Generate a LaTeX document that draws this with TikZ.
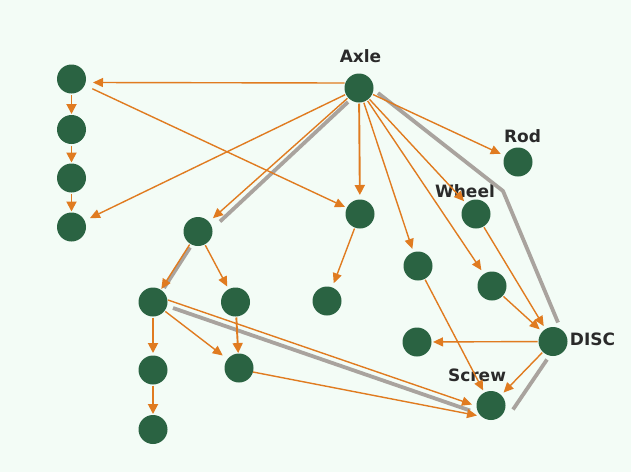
\documentclass[tikz,border=0pt]{standalone}
\usepackage{fontspec}
\setmainfont{DejaVu Sans}
\usetikzlibrary{arrows.meta,calc}
\definecolor{bg}{HTML}{F3FCF6}
\definecolor{nodegreen}{HTML}{2A6342}
\definecolor{edgeor}{HTML}{E07B20}
\definecolor{hlgray}{HTML}{A9A39E}
\definecolor{txt}{HTML}{2A2A2A}
\begin{document}
\begin{tikzpicture}[x=1pt,y=-1pt,
  dot/.style={circle,fill=nodegreen,minimum size=29pt,inner sep=0pt,outer sep=0pt},
  lbl/.style={font=\bfseries\fontsize{17}{20}\selectfont,text=txt,inner sep=0pt,anchor=base},
  arr/.style={draw=edgeor,line width=1.4pt,-{Triangle[length=10pt,width=9pt]},shorten >=3pt,shorten <=1pt},
  arrthick/.style={arr,line width=1.9pt,-{Triangle[length=10pt,width=10pt]}},
  hl/.style={draw=hlgray,line width=3.8pt,line join=round}]
\fill[bg] (0,0) rectangle (631,472);
\useasboundingbox (0,0) rectangle (631,472);
% nodes
\node[dot] (a1) at (71.5,79) {};
\node[dot] (a2) at (71.5,129.5) {};
\node[dot] (a3) at (71.5,178) {};
\node[dot] (a4) at (71.5,227) {};
\node[dot] (axle) at (359,88) {};
\node[dot] (rod) at (518,162) {};
\node[dot] (wheel) at (476,214) {};
\node[dot] (m) at (360,214) {};
\node[dot] (b) at (198,231.5) {};
\node[dot] (c) at (418,266) {};
\node[dot] (d) at (492,286) {};
\node[dot] (e) at (153,302) {};
\node[dot] (f) at (235.5,302) {};
\node[dot] (g) at (327,301) {};
\node[dot] (h) at (417,342) {};
\node[dot] (disc) at (553,341.5) {};
\node[dot] (i) at (153,370) {};
\node[dot] (j) at (239,368) {};
\node[dot] (screw) at (491,405.5) {};
\node[dot] (k) at (153,429.5) {};
\coordinate (bend) at (503,191);
% labels
\node[lbl] (tAxle) at (360.5,62) {Axle};
\node[lbl] (tRod) at (522.5,142) {Rod};
\node[lbl] (tWheel) at (465,197) {Wheel};
\node[lbl] (tDisc) at (592.5,345) {DISC};
\node[lbl] (tScrew) at (477,381) {Screw};
% highlighted cycle
\draw[hl] ($(axle)+(-11,14)$) -- ($(b)+(22,-10)$);
\draw[hl] ($(b)+(-8,16)$) -- ($(e)+(11,-14)$);
\draw[hl] ($(e)+(20,6)$) -- ($(screw)+(-21,5)$);
\draw[hl] ($(screw)+(22,4)$) -- ($(disc)+(-6,18)$);
\draw[hl] ($(disc)+(5,-19)$) -- (bend) -- ($(axle)+(19,5)$);
% directed edges
\draw[arr,shorten >=0pt,shorten <=0pt] ($(axle)+(-14.5,-5)$) -- ($(a1)+(21.5,3.5)$);
\draw[arrthick,shorten >=1pt,shorten <=1.5pt] (a1) -- (a2);
\draw[arrthick,shorten >=1pt,shorten <=1.5pt] (a2) -- (a3);
\draw[arrthick,shorten >=1pt,shorten <=1.5pt] (a3) -- (a4);
\draw[arr,shorten <=8.5pt,shorten >=2pt] (a1) -- (m);
\draw[arr,shorten >=6pt] (axle) -- (a4);
\draw[arr,shorten >=5.5pt] (axle) -- (b);
\draw[arrthick,shorten >=4.5pt] (axle) -- (m);
\draw[arr,shorten >=3.5pt] (axle) -- (c);
\draw[arr,shorten >=4.5pt] (axle) -- (d);
\draw[arr,shorten >=3pt] (axle) -- (wheel);
\draw[arr,shorten >=4.5pt] (axle) -- (rod);
\draw[arr,shorten >=4.5pt] (m) -- (g);
\draw[arr,shorten >=1pt] (b) -- (e);
\draw[arr,shorten >=3pt] (b) -- (f);
\draw[arrthick,shorten >=2.5pt] (e) -- (i);
\draw[arrthick,shorten >=1pt] (i) -- (k);
\draw[arr,shorten >=6pt] (e) -- (j);
\draw[arrthick,shorten >=0.5pt] (f) -- (j);
\draw[arr,shorten >=0pt,shorten <=0pt] ($(e)+(15,-2)$) -- ($(screw)+(-19,-1)$);
\draw[arr,shorten >=0pt,shorten <=0pt] ($(j)+(14,4)$) -- ($(screw)+(-14,10)$);
\draw[arr,shorten >=2.5pt] (c) -- (screw);
\draw[arr,shorten >=3.5pt] (wheel) -- (disc);
\draw[arr,shorten >=3.5pt] (d) -- (disc);
\draw[arr,shorten >=1.5pt] (disc) -- (h);
\draw[arr,shorten >=3.5pt] (disc) -- (screw);
\end{tikzpicture}
\end{document}
